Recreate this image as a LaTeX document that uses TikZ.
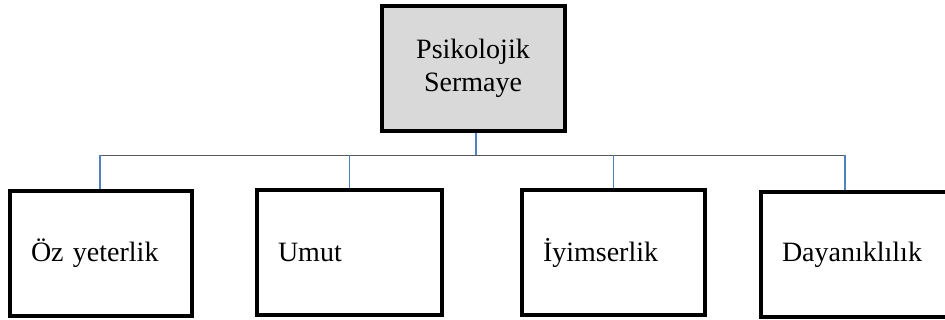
\documentclass[tikz,border=0pt]{standalone}
\usepackage{fontspec}
\setmainfont{Liberation Serif}
\usetikzlibrary{positioning}
\definecolor{BoxGray}{RGB}{217,217,217}
\definecolor{LinkBlue}{RGB}{79,129,189}
\definecolor{BusGray}{RGB}{89,89,89}

\begin{document}
\begin{tikzpicture}[x=1pt,y=-1pt,
  box/.style={draw=black,line width=4pt,minimum height=125pt,inner ysep=0pt,
    font=\fontsize{28}{33}\selectfont},
  leaf/.style={box,text width=#1,inner xsep=21pt,align=left},
  link/.style={LinkBlue,line width=1.4pt},
  bus/.style={BusGray,line width=1.6pt}]
  \useasboundingbox (0,0) rectangle (945,320);
  % top node
  \node[box,fill=BoxGray,minimum width=183pt,align=center] (psy) at (473,68.5)
    {Psikolojik\\Sermaye};
  % four components
  \node[leaf=140pt] (oz) at (101,253.5) {Öz yeterlik};
  \node[leaf=143pt] (umut) at (349.5,252.5) {Umut};
  \node[leaf=141pt] (iyi) at (613.5,252.5) {İyimserlik};
  \node[leaf=150pt] (day) at (857,255) {Dayanıklılık};
  % branches
  \coordinate (busL) at (100,155.5);
  \coordinate (busR) at (845,155.5);
  \draw[bus] (busL) -- (busR);
  \draw[link] ([xshift=3pt]psy.south) -- ([xshift=3pt]psy.south |- busL);
  \draw[link] (busL) -- (busL |- oz.north);
  \draw[link] (umut.north |- busL) -- (umut.north);
  \draw[link] (iyi.north |- busL) -- (iyi.north);
  \draw[link] (busR) -- (busR |- day.north);
\end{tikzpicture}
\end{document}
